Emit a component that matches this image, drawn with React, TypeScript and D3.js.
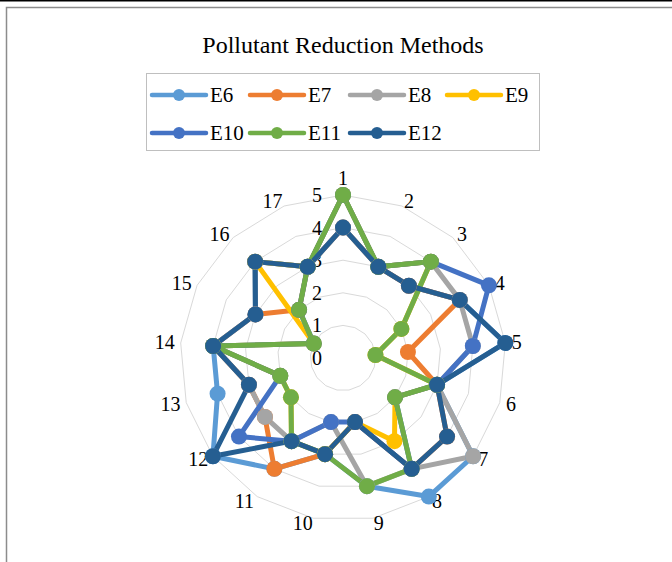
import React from "react";
import * as d3 from "d3";

const axes = ["1","2","3","4","5","6","7","8","9","10","11","12","13","14","15","16","17"];
const seriesNames = ["E6","E7","E8","E9","E10","E11","E12"];
const E6 = [4,3,3,4,5,3,5,5,4,3,4,5,4,4,3,4,3];
const E7 = [4,3,3,4,2,3,4,4,2,3,4,3,3,4,3,2,3];
const E8 = [4,3,4,4,4,3,5,4,4,2,3,3,3,4,3,4,3];
const E9 = [5,3,4,2,1,3,2,3,2,3,3,2,2,4,1,4,3];
const E10 = [5,3,4,5,4,3,2,4,2,2,3,4,2,4,1,2,3];
const E11 = [5,3,4,2,1,3,2,4,4,3,3,2,2,4,1,2,3];
const E12 = [4,3,3,4,5,3,4,4,2,3,3,5,3,4,3,4,3];
const seriesValues = [E6,E7,E8,E9,E10,E11,E12];
const colors = ["#5B9BD5","#ED7D31","#A5A5A5","#FFC000","#4472C4","#70AD47","#255E91"];
const ticks = [0,1,2,3,4,5];
const title = "Pollutant Reduction Methods";

export default function App() {
  const W = 672, H = 562;
  const cx = 343, cy = 358;
  const r = d3.scaleLinear().domain([0, 5]).range([0, 163]);
  const angle = d3.scaleLinear().domain([0, axes.length]).range([0, 2 * Math.PI]);
  const font = "'Liberation Serif', 'Times New Roman', serif";

  const line = d3.lineRadial<number>()
    .angle((_, i) => angle(i))
    .radius(d => r(d))
    .curve(d3.curveLinearClosed);

  const pt = (i: number, v: number) => {
    const a = angle(i);
    return [cx + r(v) * Math.sin(a), cy - r(v) * Math.cos(a)];
  };

  const legendRows = [[0,1,2,3],[4,5,6]];
  const legendX = [152, 250, 350, 447];
  const legendY = [95, 133];

  return (
    <svg width={W} height={H} style={{ position: "absolute", left: 0, top: 0, background: "#fff" }} fontFamily={font}>
      <rect x={0} y={0} width={W} height={H} fill="#fff" />
      <line x1={0} x2={W} y1={0.75} y2={0.75} stroke="#000" strokeWidth={1.5} />
      <rect x={6.5} y={7.5} width={W + 20} height={H + 20} fill="none" stroke="#8c8c8c" strokeWidth={1.5} />
      <text x={343} y={53} textAnchor="middle" fontSize={24} fill="#000">{title}</text>

      <rect x={146.5} y={73.5} width={393} height={77} fill="#fff" stroke="#bfbfbf" strokeWidth={1} />
      {legendRows.map((row, ri) => row.map((si, ci) => (
        <g key={si}>
          <line x1={legendX[ci]} x2={legendX[ci] + 54} y1={legendY[ri]} y2={legendY[ri]} stroke={colors[si]} strokeWidth={4.5} strokeLinecap="round" />
          <circle cx={legendX[ci] + 27} cy={legendY[ri]} r={6} fill={colors[si]} />
          <text x={legendX[ci] + 58} y={legendY[ri] + 7} fontSize={21} fill="#000">{seriesNames[si]}</text>
        </g>
      )))}

      <g transform={`translate(${cx},${cy})`}>
        {ticks.filter(t => t > 0).map(t => (
          <path key={t} d={line(axes.map(() => t)) || ""} fill="none" stroke="#d9d9d9" strokeWidth={1} />
        ))}
      </g>

      {ticks.map(t => (
        <text key={t} x={322} y={cy - r(t) + 7} textAnchor="end" fontSize={20} fill="#000">{t}</text>
      ))}

      {axes.map((a, i) => {
        const ang = angle(i);
        const s = Math.sin(ang), c = Math.cos(ang);
        const hw = 4.5 * a.length;
        const sign = Math.abs(s) < 1e-6 ? 0 : Math.sign(s);
        const x = cx + 170 * s + sign * hw;
        let y = cy - 168 * c;
        if (sign === 0 && c > 0) y -= 12;
        return (
          <text key={a} x={x} y={y + 7} textAnchor="middle" fontSize={20} fill="#000">{a}</text>
        );
      })}

      <g transform={`translate(${cx},${cy})`}>
        {seriesValues.map((vals, si) => (
          <path key={si} d={line(vals) || ""} fill="none" stroke={colors[si]} strokeWidth={5} strokeLinejoin="round" />
        ))}
      </g>
      {seriesValues.map((vals, si) => (
        <g key={si}>
          {vals.map((v, i) => {
            const [x, y] = pt(i, v);
            return <circle key={i} cx={x} cy={y} r={8} fill={colors[si]} />;
          })}
        </g>
      ))}
    </svg>
  );
}
